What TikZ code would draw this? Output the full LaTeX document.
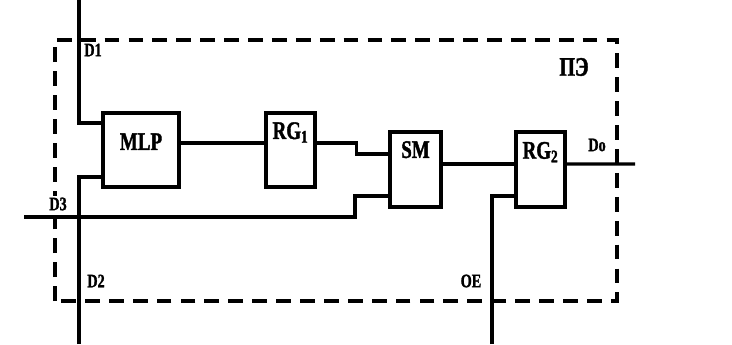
\documentclass[tikz,border=0pt]{standalone}
\usepackage{fontspec}
\newfontfamily\blockfont[FakeStretch=0.75,FakeBold=1.5]{Liberation Serif}
\usepackage{tikz}
\usetikzlibrary{positioning,calc}
\tikzset{
  block/.style={draw=black,line width=2.2pt,inner sep=0pt,text height=.3cm,font=\blockfont\bfseries\fontsize{18}{18}\selectfont},
  wire/.style={line width=2.2pt,draw=black},
  frame/.style={line width=2.6pt,draw=black,dash pattern=on 10.5pt off 6.5pt},
  tag/.style={inner sep=0pt,font=\blockfont\bfseries\fontsize{13.5}{13.5}\selectfont}
}

\begin{document}
\begin{tikzpicture}[x=1cm,y=1cm]
\useasboundingbox[fill=white] (0,0) rectangle (18.3,8.6);
% Rahmen ПЭ
\draw[frame] (1.375,1.075) rectangle (15.425,7.6);
\node[tag,font=\blockfont\bfseries\fontsize{19}{19}\selectfont] (pe) at (14.35,6.925) {ПЭ};

\node[block,minimum width=1.9cm,minimum height=1.85cm,text depth=.3cm] (mlp) at (3.525,4.85) {MLP};
\node[block,minimum width=1.225cm,minimum height=1.85cm,text depth=.85cm] (rg1) at (7.2625,4.85) {RG\textsubscript{1}};
\node[block,minimum width=1.275cm,minimum height=1.875cm,text depth=.88cm] (sm) at (10.3875,4.3625) {SM};
\node[block,minimum width=1.225cm,minimum height=1.875cm,text depth=.84cm] (rg2) at (13.5125,4.3625) {RG\textsubscript{2}};

\coordinate (d1in) at (1.975,8.6);
\coordinate (d2in) at (1.975,0);
\coordinate (d3in) at (.6,3.175);
\coordinate (oein) at (12.3,0);
\coordinate (doout) at (15.875,4.5);

\node[tag] (d1) at (2.325,7.35) {D1};
\node[tag] (d2) at (2.4,1.575) {D2};
\node[tag,fill=white,inner sep=1pt] (d3) at (1.45,3.5) {D3};
\node[tag] (do) at (14.925,4.975) {Do};
\node[tag] (oe) at (11.775,1.575) {OE};

\draw[wire] (d1in) |- ([yshift=.675cm]mlp.west);
\draw[wire] (d2in) |- ([yshift=-.675cm]mlp.west);
\draw[wire] ([yshift=.175cm]mlp.east) -- ([yshift=.175cm]rg1.west);
\draw[wire] ([yshift=.175cm]rg1.east) -- ++(1,0) |- ([yshift=.3875cm]sm.west);
\draw[wire] (d3in) -- ++(8.275,0) |- ([yshift=-.6625cm]sm.west);
\draw[wire] ([yshift=.1375cm]sm.east) -- ([yshift=.1375cm]rg2.west);
\draw[wire] (oein) |- ([yshift=-.6625cm]rg2.west);
\draw[wire] ([yshift=.1375cm]rg2.east) -- (doout);
\end{tikzpicture}
\end{document}
